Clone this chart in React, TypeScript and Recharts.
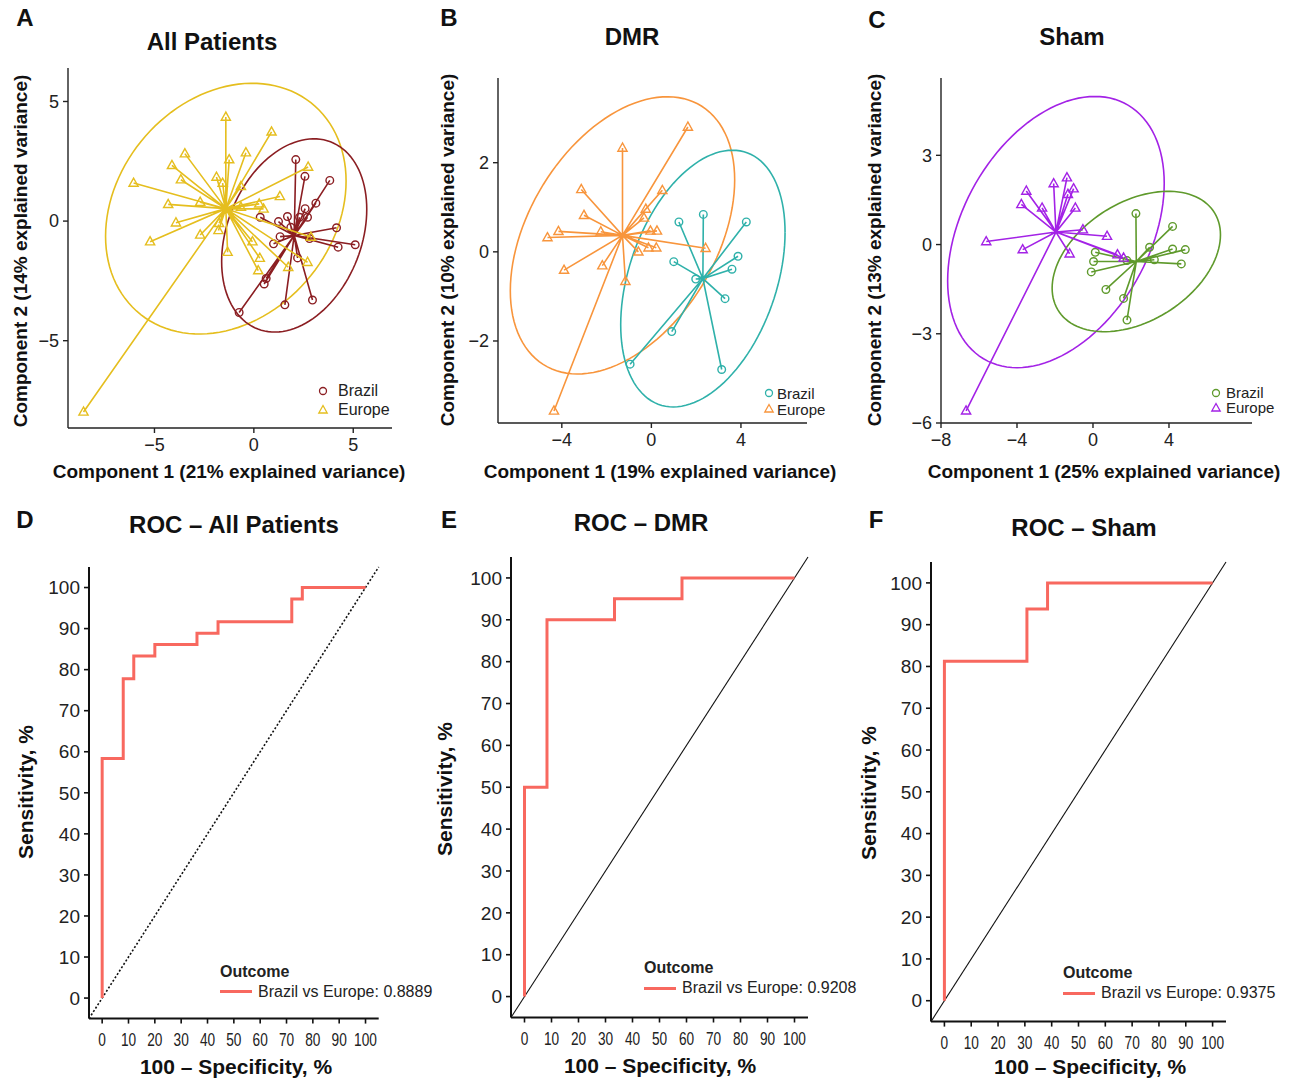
import React from 'react'
import {
  ScatterChart,
  Scatter,
  LineChart,
  Line,
  XAxis,
  YAxis,
  Legend,
  ReferenceLine
} from 'recharts'

type Pt = { x: number; y: number }
type Ell = { cx: number; cy: number; rx: number; ry: number; rho: number }
type Rect = { x0: number; y0: number; x1: number; y1: number }

// ---- Panel A: All Patients (PCA scores) ----
const allBrazil: Pt[] = [
  { x: 2.11, y: 2.57 }, { x: 2.57, y: 1.87 }, { x: 3.82, y: 1.7 }, { x: 3.12, y: 0.75 },
  { x: 2.58, y: 0.52 }, { x: 2.7, y: 0.16 }, { x: 1.69, y: 0.19 }, { x: 1.24, y: -0.02 },
  { x: 0.32, y: 0.16 }, { x: 2.3, y: 0.16 }, { x: 4.16, y: -0.28 }, { x: 1.32, y: -0.65 },
  { x: 0.99, y: -0.95 }, { x: 4.24, y: -1.09 }, { x: 5.1, y: -0.99 }, { x: 2.2, y: -1.54 },
  { x: 0.52, y: -2.63 }, { x: 0.62, y: -2.4 }, { x: 2.95, y: -3.3 }, { x: 1.56, y: -3.5 },
  { x: -0.74, y: -3.82 }, { x: 2.8, y: -0.73 }, { x: 1.86, y: -0.26 }
]
const allEurope: Pt[] = [
  { x: -1.41, y: 4.35 }, { x: 0.89, y: 3.73 }, { x: -3.47, y: 2.82 }, { x: -0.4, y: 2.86 },
  { x: -1.24, y: 2.57 }, { x: -4.12, y: 2.33 }, { x: 2.73, y: 2.26 }, { x: -6.05, y: 1.59 },
  { x: -3.67, y: 1.73 }, { x: -1.88, y: 1.84 }, { x: -1.57, y: 1.59 }, { x: -0.65, y: 1.45 },
  { x: 1.31, y: 1.03 }, { x: -4.31, y: 0.7 }, { x: -2.7, y: 0.79 }, { x: 0.27, y: 0.72 },
  { x: 0.49, y: 0.51 }, { x: -3.92, y: -0.07 }, { x: -1.75, y: -0.09 }, { x: -5.22, y: -0.86 },
  { x: -2.7, y: -0.58 }, { x: -1.78, y: -0.39 }, { x: -1.32, y: -1.3 }, { x: -0.07, y: -0.86 },
  { x: 0.3, y: -1.55 }, { x: 0.22, y: -2.07 }, { x: 1.73, y: -1.93 }, { x: 2.7, y: -1.72 },
  { x: 2.87, y: -0.67 }, { x: -8.57, y: -7.98 }, { x: -0.65, y: 0.58 }
]
const allBrazilEllipse: Ell = { cx: 2.03, cy: -0.6, rx: 3.65, ry: 4.04, rho: 0.27 }
const allEuropeEllipse: Ell = { cx: -1.41, cy: 0.52, rx: 6.05, ry: 5.24, rho: 0.22 }

// ---- Panel B: DMR ----
const dmrBrazil: Pt[] = [
  { x: 2.32, y: 0.84 }, { x: 1.23, y: 0.67 }, { x: 4.24, y: 0.67 }, { x: 3.87, y: -0.1 },
  { x: 1.0, y: -0.22 }, { x: 3.6, y: -0.39 }, { x: 1.98, y: -0.61 }, { x: 3.29, y: -1.05 },
  { x: 0.91, y: -1.79 }, { x: -0.95, y: -2.52 }, { x: 3.14, y: -2.64 }
]
const dmrEurope: Pt[] = [
  { x: 1.63, y: 2.8 }, { x: -1.29, y: 2.33 }, { x: -3.13, y: 1.4 }, { x: 0.49, y: 1.38 },
  { x: -0.25, y: 0.96 }, { x: -3.01, y: 0.82 }, { x: -0.33, y: 0.76 }, { x: -4.15, y: 0.46 },
  { x: -4.64, y: 0.32 }, { x: -2.26, y: 0.45 }, { x: -0.04, y: 0.47 }, { x: 0.25, y: 0.47 },
  { x: -0.58, y: 0.0 }, { x: -0.13, y: 0.09 }, { x: 0.22, y: 0.09 }, { x: 2.42, y: 0.08 },
  { x: -3.9, y: -0.41 }, { x: -2.19, y: -0.31 }, { x: -1.16, y: -0.66 }, { x: -4.35, y: -3.57 }
]
const dmrBrazilEllipse: Ell = { cx: 2.3, cy: -0.6, rx: 3.67, ry: 2.88, rho: 0.36 }
const dmrEuropeEllipse: Ell = { cx: -1.29, cy: 0.37, rx: 5.01, ry: 3.11, rho: 0.4 }

// ---- Panel C: Sham ----
const shamBrazil: Pt[] = [
  { x: 2.26, y: 1.04 }, { x: 4.19, y: 0.61 }, { x: 2.98, y: -0.09 }, { x: 4.19, y: -0.15 },
  { x: 4.86, y: -0.17 }, { x: 0.12, y: -0.26 }, { x: 0.03, y: -0.57 }, { x: 4.65, y: -0.65 },
  { x: 3.23, y: -0.51 }, { x: -0.09, y: -0.92 }, { x: 0.68, y: -1.51 }, { x: 1.61, y: -1.81 },
  { x: 1.79, y: -2.54 }, { x: 1.79, y: -0.54 }
]
const shamEurope: Pt[] = [
  { x: -1.37, y: 2.25 }, { x: -2.07, y: 2.05 }, { x: -1.02, y: 1.88 }, { x: -1.32, y: 1.69 },
  { x: -3.51, y: 1.8 }, { x: -3.77, y: 1.35 }, { x: -2.68, y: 1.23 }, { x: -0.93, y: 1.23 },
  { x: -0.53, y: 0.5 }, { x: 0.74, y: 0.28 }, { x: -5.62, y: 0.1 }, { x: -3.7, y: -0.17 },
  { x: -1.23, y: -0.31 }, { x: 1.29, y: -0.34 }, { x: 1.61, y: -0.45 }, { x: -6.68, y: -5.59 }
]
const shamBrazilEllipse: Ell = { cx: 2.28, cy: -0.57, rx: 4.43, ry: 2.36, rho: 0.38 }
const shamEuropeEllipse: Ell = { cx: -1.95, cy: 0.42, rx: 5.7, ry: 4.56, rho: 0.36 }

// ---- ROC curves (100 - specificity, sensitivity) ----
const rocAllFpr = [0, 0, 8, 12, 20, 36, 44, 72, 76, 100]
const rocAllTpr = [0, 58.33, 77.78, 83.33, 86.11, 88.89, 91.67, 97.22, 100, 100]
const rocDmrFpr = [0, 0, 8.33, 33.33, 58.33, 100]
const rocDmrTpr = [0, 50, 90, 95, 100, 100]
const rocShamFpr = [0, 0, 30.77, 38.46, 100]
const rocShamTpr = [0, 81.25, 93.75, 100, 100]
const pctTicks = [0, 10, 20, 30, 40, 50, 60, 70, 80, 90, 100]

const FONT = "'Liberation Sans', Arial, Helvetica, sans-serif"
const AXIS = '#222'
const ROC_RED = '#F8685F'
const YW = 60
const XH = 40
const MT = 10
const MR = 20

function box(r: Rect) {
  return {
    left: r.x0 - YW,
    top: r.y0 - MT,
    width: r.x1 - r.x0 + YW + MR,
    height: r.y1 - r.y0 + MT + XH
  }
}

const fmt = (v: number) => (v < 0 ? '\u2212' + Math.abs(v) : String(v))

// ellipse outline from centre, half extents and correlation
function ellipsePts(e: Ell) {
  const out: Pt[] = []
  const s = Math.sqrt(1 - e.rho * e.rho)
  for (let i = 0; i <= 120; i++) {
    const t = (Math.PI * 2 * i) / 120
    out.push({
      x: e.cx + e.rx * Math.cos(t),
      y: e.cy + e.ry * (e.rho * Math.cos(t) + s * Math.sin(t))
    })
  }
  return out
}

// centroid -> point -> centroid -> point ... gives the star segments
function starPts(e: Ell, pts: Pt[]) {
  const out: Pt[] = []
  pts.forEach(p => {
    out.push({ x: e.cx, y: e.cy })
    out.push(p)
  })
  return out
}

const noShape = () => <g />

function Txt(props: {
  x: number
  y: number
  size: number
  bold?: boolean
  rotate?: boolean
  children: React.ReactNode
}) {
  return (
    <div
      style={{
        position: 'absolute',
        left: props.x,
        top: props.y,
        transform: 'translate(-50%,-50%)' + (props.rotate ? ' rotate(-90deg)' : ''),
        fontSize: props.size,
        fontWeight: props.bold ? 700 : 400,
        fontFamily: FONT,
        whiteSpace: 'nowrap',
        lineHeight: 1,
        color: '#111'
      }}
    >
      {props.children}
    </div>
  )
}

function circleShape(color: string) {
  return (p: any) => (
    <circle cx={p.cx} cy={p.cy} r={3.8} fill='none' stroke={color} strokeWidth={1.4} />
  )
}
function triShape(color: string) {
  return (p: any) => (
    <polygon
      points={`${p.cx},${p.cy - 5} ${p.cx - 4.6},${p.cy + 3.2} ${p.cx + 4.6},${p.cy + 3.2}`}
      fill='none'
      stroke={color}
      strokeWidth={1.4}
    />
  )
}

function PcaPanel(p: {
  rect: Rect
  xDomain: number[]
  yDomain: number[]
  xTicks: number[]
  yTicks: number[]
  brazil: Pt[]
  europe: Pt[]
  brazilEll: Ell
  europeEll: Ell
  brazilColor: string
  europeColor: string
  legend: { x: number; y: number; row: number; size: number; gap: number }
}) {
  const b = box(p.rect)
  const lg = p.legend
  return (
    <div style={{ position: 'absolute', left: b.left, top: b.top }}>
      <ScatterChart
        width={b.width}
        height={b.height}
        margin={{ top: MT, right: MR, bottom: 0, left: 0 }}
      >
        <XAxis
          type='number'
          dataKey='x'
          domain={p.xDomain}
          ticks={p.xTicks}
          interval={0}
          allowDataOverflow
          tickFormatter={fmt}
          height={XH}
          axisLine={{ stroke: AXIS, strokeWidth: 1.4 }}
          tickLine={{ stroke: AXIS, strokeWidth: 1.4 }}
          tickSize={5}
          tickMargin={5}
          tick={{ fill: '#222', fontSize: 18, fontFamily: FONT }}
        />
        <YAxis
          type='number'
          dataKey='y'
          domain={p.yDomain}
          ticks={p.yTicks}
          interval={0}
          allowDataOverflow
          tickFormatter={fmt}
          width={YW}
          axisLine={{ stroke: AXIS, strokeWidth: 1.4 }}
          tickLine={{ stroke: AXIS, strokeWidth: 1.4 }}
          tickSize={5}
          tickMargin={4}
          tick={{ fill: '#222', fontSize: 18, fontFamily: FONT }}
        />
        <Scatter
          data={ellipsePts(p.europeEll)}
          line={{ stroke: p.europeColor, strokeWidth: 1.6 }}
          shape={noShape}
          legendType='none'
          isAnimationActive={false}
        />
        <Scatter
          data={ellipsePts(p.brazilEll)}
          line={{ stroke: p.brazilColor, strokeWidth: 1.6 }}
          shape={noShape}
          legendType='none'
          isAnimationActive={false}
        />
        <Scatter
          data={starPts(p.brazilEll, p.brazil)}
          line={{ stroke: p.brazilColor, strokeWidth: 1.6 }}
          shape={noShape}
          legendType='none'
          isAnimationActive={false}
        />
        <Scatter
          data={p.brazil}
          shape={circleShape(p.brazilColor)}
          name='Brazil'
          isAnimationActive={false}
        />
        <Scatter
          data={starPts(p.europeEll, p.europe)}
          line={{ stroke: p.europeColor, strokeWidth: 1.6 }}
          shape={noShape}
          legendType='none'
          isAnimationActive={false}
        />
        <Scatter
          data={p.europe}
          shape={triShape(p.europeColor)}
          name='Europe'
          isAnimationActive={false}
        />
        <Legend
          layout='vertical'
          align='center'
          verticalAlign='middle'
          wrapperStyle={{ left: lg.x - 7 - b.left, top: lg.y - lg.row / 2 - b.top, width: 90 }}
          content={() => (
            <div style={{ fontFamily: FONT, fontSize: lg.size, color: '#222' }}>
              {[
                { label: 'Brazil', tri: false, color: p.brazilColor },
                { label: 'Europe', tri: true, color: p.europeColor }
              ].map(it => (
                <div
                  key={it.label}
                  style={{ display: 'flex', alignItems: 'center', height: lg.row }}
                >
                  <svg width={14} height={14}>
                    {it.tri ? (
                      <polygon
                        points='7,2.5 2.8,10 11.2,10'
                        fill='none'
                        stroke={it.color}
                        strokeWidth={1.3}
                      />
                    ) : (
                      <circle cx={7} cy={7} r={3.5} fill='none' stroke={it.color} strokeWidth={1.3} />
                    )}
                  </svg>
                  <span style={{ marginLeft: lg.gap }}>{it.label}</span>
                </div>
              ))}
            </div>
          )}
        />
      </ScatterChart>
    </div>
  )
}

const CondTick = (props: any) => {
  const { x, y, payload } = props
  return (
    <g transform={`translate(${x},${y})`}>
      <text
        transform='scale(0.76,1)'
        textAnchor='middle'
        dy='0.71em'
        fontSize={18}
        fill='#222'
        fontFamily={FONT}
      >
        {payload.value}
      </text>
    </g>
  )
}

function RocPanel(p: {
  rect: Rect
  fpr: number[]
  tpr: number[]
  auc: string
  dotted: boolean
  legend: { x: number; y: number }
}) {
  const b = box(p.rect)
  const data = p.fpr.map((f, i) => ({ x: f, y: p.tpr[i] }))
  return (
    <div style={{ position: 'absolute', left: b.left, top: b.top }}>
      <LineChart
        width={b.width}
        height={b.height}
        data={data}
        margin={{ top: MT, right: MR, bottom: 0, left: 0 }}
      >
        <XAxis
          type='number'
          dataKey='x'
          domain={[-5, 105]}
          ticks={pctTicks}
          interval={0}
          allowDataOverflow
          height={XH}
          axisLine={{ stroke: '#111', strokeWidth: 2 }}
          tickLine={{ stroke: '#111', strokeWidth: 1.6 }}
          tickSize={5}
          tickMargin={10}
          tick={(t: any) => <CondTick {...t} />}
        />
        <YAxis
          type='number'
          domain={[-5, 105]}
          ticks={pctTicks}
          interval={0}
          allowDataOverflow
          width={YW}
          axisLine={{ stroke: '#111', strokeWidth: 2 }}
          tickLine={{ stroke: '#111', strokeWidth: 1.6 }}
          tickSize={5}
          tickMargin={4}
          tick={{ fill: '#222', fontSize: 19, fontFamily: FONT }}
        />
        <ReferenceLine
          segment={[
            { x: -5, y: -5 },
            { x: 105, y: 105 }
          ]}
          stroke='#111'
          strokeWidth={p.dotted ? 1.6 : 1.1}
          strokeDasharray={p.dotted ? '2 2' : undefined}
        />
        <Line
          type='stepAfter'
          dataKey='y'
          stroke={ROC_RED}
          strokeWidth={3}
          dot={false}
          activeDot={false}
          isAnimationActive={false}
        />
        <Legend
          layout='vertical'
          align='center'
          verticalAlign='middle'
          wrapperStyle={{ left: p.legend.x - b.left, top: p.legend.y - b.top, width: 240 }}
          content={() => (
            <div style={{ fontFamily: FONT, color: '#222' }}>
              <div style={{ fontSize: 16, fontWeight: 700, height: 20, lineHeight: '20px' }}>
                Outcome
              </div>
              <div style={{ display: 'flex', alignItems: 'center', height: 20 }}>
                <div style={{ width: 32, height: 3, background: ROC_RED }} />
                <span style={{ marginLeft: 6, fontSize: 16 }}>Brazil vs Europe: {p.auc}</span>
              </div>
            </div>
          )}
        />
      </LineChart>
    </div>
  )
}

export default function App() {
  return (
    <div
      style={{
        position: 'absolute',
        left: 0,
        top: 0,
        width: 1291,
        height: 1078,
        background: '#fff',
        fontFamily: FONT
      }}
    >
      <PcaPanel
        rect={{ x0: 68, y0: 68, x1: 392, y1: 428 }}
        xDomain={[-9.35, 6.95]}
        yDomain={[-8.65, 6.4]}
        xTicks={[-5, 0, 5]}
        yTicks={[-5, 0, 5]}
        brazil={allBrazil}
        europe={allEurope}
        brazilEll={allBrazilEllipse}
        europeEll={allEuropeEllipse}
        brazilColor='#8B1E22'
        europeColor='#E5BE1E'
        legend={{ x: 323, y: 391, row: 18.5, size: 16, gap: 8 }}
      />
      <PcaPanel
        rect={{ x0: 498, y0: 78, x1: 807, y1: 423 }}
        xDomain={[-6.85, 6.95]}
        yDomain={[-3.84, 3.9]}
        xTicks={[-4, 0, 4]}
        yTicks={[-2, 0, 2]}
        brazil={dmrBrazil}
        europe={dmrEurope}
        brazilEll={dmrBrazilEllipse}
        europeEll={dmrEuropeEllipse}
        brazilColor='#2FB1AA'
        europeColor='#F8953C'
        legend={{ x: 769, y: 393, row: 16, size: 15, gap: 1 }}
      />
      <PcaPanel
        rect={{ x0: 941, y0: 78, x1: 1252, y1: 423 }}
        xDomain={[-8, 8.37]}
        yDomain={[-6, 5.6]}
        xTicks={[-8, -4, 0, 4]}
        yTicks={[-6, -3, 0, 3]}
        brazil={shamBrazil}
        europe={shamEurope}
        brazilEll={shamBrazilEllipse}
        europeEll={shamEuropeEllipse}
        brazilColor='#5F9A2C'
        europeColor='#A322E6'
        legend={{ x: 1216, y: 392.5, row: 15, size: 15, gap: 3 }}
      />
      <RocPanel
        rect={{ x0: 89.3, y0: 566.7, x1: 379, y1: 1018.3 }}
        fpr={rocAllFpr}
        tpr={rocAllTpr}
        auc='0.8889'
        dotted
        legend={{ x: 220, y: 962 }}
      />
      <RocPanel
        rect={{ x0: 511, y0: 556.5, x1: 808, y1: 1017 }}
        fpr={rocDmrFpr}
        tpr={rocDmrTpr}
        auc='0.9208'
        dotted={false}
        legend={{ x: 644, y: 958 }}
      />
      <RocPanel
        rect={{ x0: 931, y0: 562, x1: 1226, y1: 1021.6 }}
        fpr={rocShamFpr}
        tpr={rocShamTpr}
        auc='0.9375'
        dotted={false}
        legend={{ x: 1063, y: 963 }}
      />

      <Txt x={25} y={18} size={24} bold>A</Txt>
      <Txt x={449} y={18} size={24} bold>B</Txt>
      <Txt x={877} y={20} size={24} bold>C</Txt>
      <Txt x={25} y={520} size={24} bold>D</Txt>
      <Txt x={449} y={520} size={24} bold>E</Txt>
      <Txt x={876} y={520} size={24} bold>F</Txt>

      <Txt x={212} y={42} size={24} bold>All Patients</Txt>
      <Txt x={632} y={37} size={24} bold>DMR</Txt>
      <Txt x={1072} y={37} size={24} bold>Sham</Txt>
      <Txt x={234} y={525} size={24} bold>ROC – All Patients</Txt>
      <Txt x={641} y={523} size={24} bold>ROC – DMR</Txt>
      <Txt x={1084} y={528} size={24} bold>ROC – Sham</Txt>

      <Txt x={20} y={251} size={19} bold rotate>Component 2 (14% explained variance)</Txt>
      <Txt x={447} y={250} size={19} bold rotate>Component 2 (10% explained variance)</Txt>
      <Txt x={874} y={250} size={19} bold rotate>Component 2 (13% explained variance)</Txt>
      <Txt x={229} y={471} size={19} bold>Component 1 (21% explained variance)</Txt>
      <Txt x={660} y={471} size={19} bold>Component 1 (19% explained variance)</Txt>
      <Txt x={1104} y={471} size={19} bold>Component 1 (25% explained variance)</Txt>

      <Txt x={25} y={792} size={21} bold rotate>Sensitivity, %</Txt>
      <Txt x={444} y={789} size={21} bold rotate>Sensitivity, %</Txt>
      <Txt x={868} y={793} size={21} bold rotate>Sensitivity, %</Txt>
      <Txt x={236} y={1066} size={21} bold>100 – Specificity, %</Txt>
      <Txt x={660} y={1065} size={21} bold>100 – Specificity, %</Txt>
      <Txt x={1090} y={1066} size={21} bold>100 – Specificity, %</Txt>
    </div>
  )
}
